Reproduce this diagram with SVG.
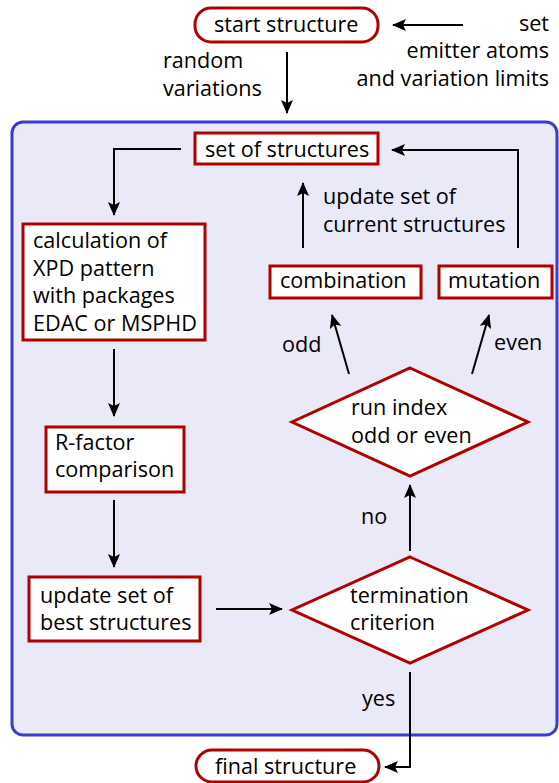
<svg xmlns="http://www.w3.org/2000/svg" width="559" height="783" viewBox="0 0 559 783">
<style>
text{font-family:"Open Sans","Noto Sans",sans-serif;font-size:21.6px;fill:#000}
.box{fill:#fff;stroke:#b00000;stroke-width:3}
.ln{fill:none;stroke:#000;stroke-width:2}
.r{text-anchor:end}
</style>
<defs>
<marker id="ah" viewBox="0 0 14 12" refX="13" refY="6" markerWidth="14" markerHeight="12" markerUnits="userSpaceOnUse" orient="auto">
<path d="M0,0 L14,6 L0,12 L3,6 Z" fill="#000"/>
</marker>
</defs>
<rect x="12" y="122" width="545" height="613" rx="11" fill="#e9e9f7" stroke="#3b3bcc" stroke-width="3"/>
<g id="start"><rect class="box" x="195" y="8" width="183" height="34" rx="16"/><text x="214" y="32">start structure</text></g>
<g id="setinfo"><text class="r" x="549" y="31">set</text><text class="r" x="549" y="58">emitter atoms</text><text class="r" x="549" y="86">and variation limits</text></g>
<g id="random"><text x="163" y="68">random</text><text x="163" y="96">variations</text></g>
<g id="setofstructures"><rect class="box" x="195" y="133" width="183" height="31"/><text x="205" y="157">set of structures</text></g>
<g id="calculation"><rect class="box" x="23" y="224" width="182" height="116"/><text x="33" y="248">calculation of</text><text x="33" y="276">XPD pattern</text><text x="33" y="303">with packages</text><text x="33" y="331">EDAC or MSPHD</text></g>
<g id="rfactor"><rect class="box" x="46" y="427" width="138" height="65"/><text x="55" y="450">R-factor</text><text x="55" y="477">comparison</text></g>
<g id="updatebest"><rect class="box" x="29" y="577" width="171" height="64"/><text x="40" y="603">update set of</text><text x="40" y="630">best structures</text></g>
<g id="termination"><polygon class="box" points="410,557 528,610 410,663 292,610"/><text x="350" y="603">termination</text><text x="350" y="630">criterion</text></g>
<g id="runindex"><polygon class="box" points="410,368 528,422 410,476 292,422"/><text x="351" y="415">run index</text><text x="351" y="443">odd or even</text></g>
<g id="combination"><rect class="box" x="270" y="266" width="151" height="32"/><text x="280" y="288">combination</text></g>
<g id="mutation"><rect class="box" x="439" y="266" width="113" height="32"/><text x="448" y="288">mutation</text></g>
<g id="final"><rect class="box" x="196" y="750" width="183" height="32" rx="16"/><text x="215" y="774">final structure</text></g>
<g id="labels"><text x="323" y="204">update set of</text><text x="323" y="232">current structures</text><text x="282" y="352">odd</text><text x="494" y="350">even</text><text x="361" y="524">no</text><text x="362" y="706">yes</text></g>
<g id="connectors">
<path class="ln" d="M463,25 H393" marker-end="url(#ah)"/>
<path class="ln" d="M287,52 V113" marker-end="url(#ah)"/>
<path class="ln" d="M181,149 H114 V215" marker-end="url(#ah)"/>
<path class="ln" d="M114,349 V416" marker-end="url(#ah)"/>
<path class="ln" d="M114,500 V567" marker-end="url(#ah)"/>
<path class="ln" d="M216,609 H282" marker-end="url(#ah)"/>
<path class="ln" d="M410,551 V485" marker-end="url(#ah)"/>
<path class="ln" d="M349,374 L332,315" marker-end="url(#ah)"/>
<path class="ln" d="M472,374 L489,315" marker-end="url(#ah)"/>
<path class="ln" d="M303,248 V183" marker-end="url(#ah)"/>
<path class="ln" d="M518,248 V150 H392" marker-end="url(#ah)"/>
<path class="ln" d="M410,672 V767 H385" marker-end="url(#ah)"/>
</g>
</svg>
